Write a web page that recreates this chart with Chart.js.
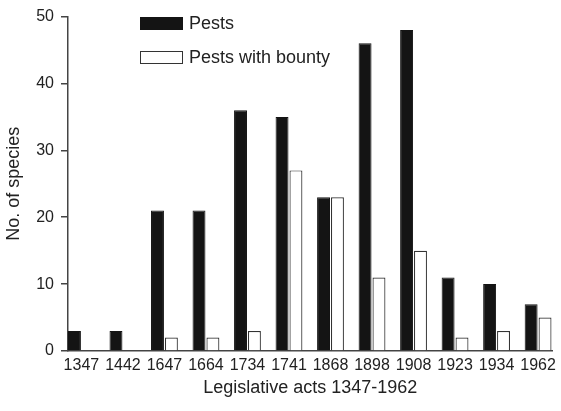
<!DOCTYPE html>
<html lang="en">
<head>
    <meta charset="UTF-8">
    <title>Pests and bounties by legislative act</title>
    <script src="https://cdn.jsdelivr.net/npm/chart.js@4.4.1/dist/chart.umd.min.js"></script>
    <style>
        body { margin: 0; background: #fff; }
        .wrap { position: relative; width: 561px; height: 411px; }
        .legend { position: absolute; left: 140px; top: 15px; font-family: "Liberation Sans", Arial, sans-serif; font-size: 18px; color: #222; }
        .legend div { display: flex; align-items: center; height: 17px; margin-bottom: 17px; }
        .legend span.box { display: inline-block; width: 41px; height: 11px; margin-right: 6px; box-sizing: content-box; }
    </style>
</head>
<body>
<div class="wrap">
    <canvas id="pestChart" width="561" height="411"></canvas>
    <div class="legend" id="legend"></div>
</div>
<script>
var acts = ['1347', '1442', '1647', '1664', '1734', '1741', '1868', '1898', '1908', '1923', '1934', '1962'];
var pests = [3, 3, 21, 21, 36, 35, 23, 46, 48, 11, 10, 7];
var pestsWithBounty = [0, 0, 2, 2, 3, 27, 23, 11, 15, 2, 3, 5];
var yTicks = [0, 10, 20, 30, 40, 50];

function points(values) {
    return values.map(function (v, i) { return { x: i, y: v }; });
}

var ink = '#222';
var font = '"Liberation Sans", Arial, sans-serif';

var ctx = document.getElementById('pestChart').getContext('2d');
var pestChart = new Chart(ctx, {
    type: 'bar',
    data: {
        datasets: [
            {
                label: 'Pests',
                data: points(pests),
                backgroundColor: '#141414',
                borderColor: '#141414',
                borderWidth: 1
            },
            {
                label: 'Pests with bounty',
                data: points(pestsWithBounty),
                backgroundColor: '#fff',
                borderColor: '#333',
                borderWidth: 1.2
            }
        ]
    },
    options: {
        responsive: false,
        animation: false,
        categoryPercentage: 0.67,
        barPercentage: 0.93,
        layout: { padding: { left: 0, right: 4, top: 16, bottom: 0 } },
        plugins: {
            legend: { display: false },
            tooltip: { enabled: false }
        },
        scales: {
            x: {
                type: 'linear',
                offset: false,
                min: -0.323,
                max: 11.35,
                grid: { display: false, drawTicks: false },
                border: { display: true, color: '#444', width: 1.5 },
                ticks: {
                    stepSize: 1,
                    includeBounds: false,
                    autoSkip: false,
                    maxRotation: 0,
                    padding: 5,
                    color: ink,
                    font: { family: font, size: 16 },
                    callback: function (v) { return Number.isInteger(v) ? acts[v] : ''; }
                },
                title: {
                    display: true,
                    text: 'Legislative acts 1347-1962',
                    color: ink,
                    font: { family: font, size: 18 },
                    padding: { top: 6, bottom: 12 }
                },
                afterFit: function (scale) { scale.height = 60; }
            },
            y: {
                min: 0,
                max: 50,
                grid: { drawOnChartArea: false, drawTicks: true, tickLength: 7, color: '#444', lineWidth: 1.5 },
                border: { display: true, color: '#444', width: 1.5 },
                afterBuildTicks: function (scale) {
                    scale.ticks = yTicks.map(function (v) { return { value: v }; });
                },
                ticks: {
                    padding: 7,
                    color: ink,
                    font: { family: font, size: 16 }
                },
                title: {
                    display: true,
                    text: 'No. of species',
                    color: ink,
                    font: { family: font, size: 18 },
                    padding: { top: 3, bottom: 3 }
                },
                afterFit: function (scale) { scale.width = 68; }
            }
        }
    }
});

// legend built from the chart's datasets
var legend = document.getElementById('legend');
pestChart.data.datasets.forEach(function (ds) {
    var row = document.createElement('div');
    row.innerHTML = '<span class="box" style="background:' + ds.backgroundColor +
        ';border:1px solid ' + ds.borderColor + '"></span>' + ds.label;
    legend.appendChild(row);
});
</script>
</body>
</html>
